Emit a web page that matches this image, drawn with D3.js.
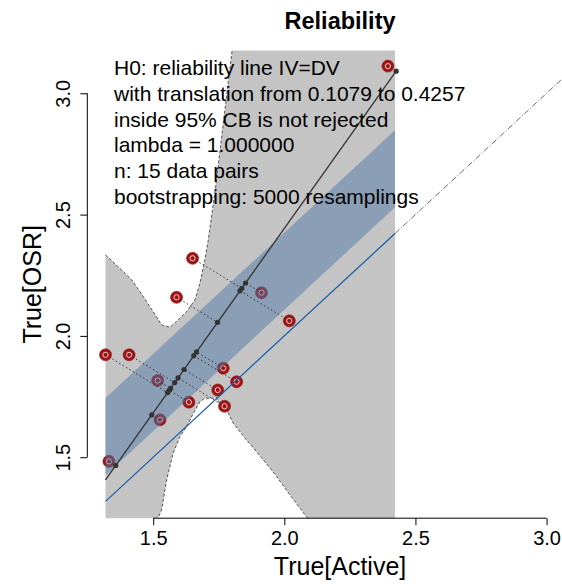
<!DOCTYPE html>
<html>
<head>
<meta charset="utf-8">
<script src="https://cdn.jsdelivr.net/npm/d3@7"></script>
<style>
  body { margin: 0; background: #fff; }
  text { font-family: "Liberation Sans", Arial, sans-serif; }
</style>
</head>
<body>
<div id="container"></div>
<script>
// data pairs (True[Active], True[OSR])
const activeX = [2.395, 1.650, 1.589, 1.913, 2.019, 1.318, 1.408, 1.517, 1.767, 1.818, 1.746, 1.636, 1.772, 1.526, 1.331];
const osrY    = [3.112, 2.320, 2.159, 2.178, 2.062, 1.922, 1.922, 1.816, 1.867, 1.811, 1.777, 1.727, 1.710, 1.654, 1.483];

// orthogonal (lambda = 1) fit line
const fitIntercept = -0.597;
const fitSlope = 1.52;
const fitExtent = [1.318, 2.427];

// translation of the identity line inside the 95% CB
const translation = [0.1079, 0.4257];
const bandExtent = [1.318, 2.422];

// bootstrap confidence band (upper edge left->right, lower edge right->left)
const cbUpperX = [1.318, 1.386, 1.418, 1.462, 1.500, 1.532, 1.564, 1.595, 1.627, 1.659, 1.678, 1.697, 1.710, 1.738, 1.800, 1.900, 2.422];
const cbUpperY = [2.334, 2.265, 2.231, 2.162, 2.100, 2.045, 2.036, 2.066, 2.100, 2.148, 2.217, 2.313, 2.395, 2.614, 3.170, 3.800, 3.900];
const cbLowerX = [2.422, 2.200, 2.088, 2.021, 1.971, 1.920, 1.856, 1.805, 1.780, 1.750, 1.739, 1.729, 1.697, 1.678, 1.653, 1.627, 1.602, 1.576, 1.551, 1.532, 1.519, 1.500, 1.318];
const cbLowerY = [0.770, 1.090, 1.249, 1.345, 1.420, 1.489, 1.571, 1.640, 1.695, 1.725, 1.748, 1.743, 1.743, 1.729, 1.681, 1.626, 1.585, 1.516, 1.406, 1.283, 1.250, 1.100, 0.200];

const axisLim = [1.2486, 3.1764];
const xTicks = [1.5, 2.0, 2.5, 3.0];
const yTicks = [1.5, 2.0, 2.5, 3.0];

const legendLines = [
  "H0: reliability line IV=DV",
  "with translation from 0.1079 to 0.4257",
  "inside 95% CB is not rejected",
  "lambda = 1.000000",
  "n: 15 data pairs",
  "bootstrapping: 5000 resamplings"
];

const width = 562, height = 586;

const x = d3.scaleLinear().domain(axisLim).range([87.3, 592.8]);
const y = d3.scaleLinear().domain(axisLim).range([518.2, 50.5]);

const svg = d3.select("#container").append("svg")
  .attr("width", width)
  .attr("height", height)
  .attr("viewBox", [0, 0, width, height]);

svg.append("rect").attr("width", width).attr("height", height).attr("fill", "#fff");

svg.append("defs").append("clipPath").attr("id", "plotclip")
  .append("rect")
  .attr("x", x(axisLim[0])).attr("y", y(axisLim[1]))
  .attr("width", x(axisLim[1]) - x(axisLim[0]))
  .attr("height", y(axisLim[0]) - y(axisLim[1]));

const plot = svg.append("g").attr("clip-path", "url(#plotclip)");

const upper = cbUpperX.map((v, i) => [v, cbUpperY[i]]);
const lower = cbLowerX.map((v, i) => [v, cbLowerY[i]]);
const line = d3.line().x(d => x(d[0])).y(d => y(d[1]));

// gray bootstrap band
plot.append("path")
  .attr("d", line(upper.concat(lower)) + "Z")
  .attr("fill", "#c4c4c4");

plot.selectAll(".cbedge")
  .data([upper, lower])
  .join("path")
  .attr("class", "cbedge")
  .attr("d", line)
  .attr("fill", "none")
  .attr("stroke", "#444")
  .attr("stroke-width", 0.9)
  .attr("stroke-dasharray", "3,2");

// projections onto fit line
const pts = activeX.map((v, i) => {
  const px = (v + fitSlope * (osrY[i] - fitIntercept)) / (1 + fitSlope * fitSlope);
  return { x: v, y: osrY[i], px: px, py: fitIntercept + fitSlope * px };
});

// red data points
const pg = plot.append("g");
pg.selectAll("circle.pt")
  .data(pts)
  .join("circle")
  .attr("class", "pt")
  .attr("cx", d => x(d.x))
  .attr("cy", d => y(d.y))
  .attr("r", 6)
  .attr("fill", "#a31414")
  .attr("stroke", "#7a1010")
  .attr("stroke-width", 0.6);
pg.selectAll("circle.glyph")
  .data(pts)
  .join("circle")
  .attr("class", "glyph")
  .attr("cx", d => x(d.x))
  .attr("cy", d => y(d.y))
  .attr("r", 2.6)
  .attr("fill", "none")
  .attr("stroke", "#eecccc")
  .attr("stroke-width", 1);

// blue translation band
const bandPoly = [
  [bandExtent[0], bandExtent[0] + translation[0]],
  [bandExtent[1], bandExtent[1] + translation[0]],
  [bandExtent[1], bandExtent[1] + translation[1]],
  [bandExtent[0], bandExtent[0] + translation[1]]
];
plot.append("path")
  .attr("d", line(bandPoly) + "Z")
  .attr("fill", "rgb(80,120,168)")
  .attr("fill-opacity", 0.5);

// identity line: blue over the band range, dot-dash beyond it
plot.append("path")
  .attr("d", line([[bandExtent[1], bandExtent[1]], [axisLim[1], axisLim[1]]]))
  .attr("stroke", "#555")
  .attr("stroke-width", 0.9)
  .attr("stroke-dasharray", "6,2,1,2")
  .attr("fill", "none");
plot.append("path")
  .attr("d", line([[bandExtent[0], bandExtent[0]], [bandExtent[1], bandExtent[1]]]))
  .attr("stroke", "#1f5fa8")
  .attr("stroke-width", 1.3)
  .attr("fill", "none");

// dotted projection segments
plot.selectAll("line.proj")
  .data(pts)
  .join("line")
  .attr("class", "proj")
  .attr("x1", d => x(d.x)).attr("y1", d => y(d.y))
  .attr("x2", d => x(d.px)).attr("y2", d => y(d.py))
  .attr("stroke", "#333")
  .attr("stroke-width", 1)
  .attr("stroke-dasharray", "1.5,2.5");

// fit line
plot.append("path")
  .attr("d", line(fitExtent.map(v => [v, fitIntercept + fitSlope * v])))
  .attr("stroke", "#333")
  .attr("stroke-width", 1.3)
  .attr("fill", "none");

plot.selectAll("circle.proj")
  .data(pts)
  .join("circle")
  .attr("class", "proj")
  .attr("cx", d => x(d.px))
  .attr("cy", d => y(d.py))
  .attr("r", 2.6)
  .attr("fill", "#333");

// axes
const gx = svg.append("g")
  .attr("transform", `translate(0,${y(axisLim[0])})`)
  .call(d3.axisBottom(x).tickValues(xTicks).tickSize(7).tickFormat(d3.format(".1f")))
  .call(g => g.select(".domain").remove());
gx.append("line")
  .attr("x1", x(xTicks[0])).attr("x2", x(xTicks[xTicks.length - 1]))
  .attr("stroke", "#000");
gx.selectAll(".tick text")
  .attr("y", 27).attr("dy", null)
  .attr("font-size", 20)
  .attr("font-family", "Liberation Sans, Arial, sans-serif")
  .attr("fill", "#000");

const gy = svg.append("g")
  .attr("transform", `translate(${x(axisLim[0])},0)`)
  .call(d3.axisLeft(y).tickValues(yTicks).tickSize(7).tickFormat(d3.format(".1f")))
  .call(g => g.select(".domain").remove());
gy.append("line")
  .attr("y1", y(yTicks[0])).attr("y2", y(yTicks[yTicks.length - 1]))
  .attr("stroke", "#000");
gy.selectAll(".tick text")
  .attr("x", 0).attr("y", -17.5).attr("dy", null)
  .attr("transform", "rotate(-90)")
  .attr("text-anchor", "middle")
  .attr("font-size", 20)
  .attr("font-family", "Liberation Sans, Arial, sans-serif")
  .attr("fill", "#000");

const cx = (x(axisLim[0]) + x(axisLim[1])) / 2;
const cy = (y(axisLim[0]) + y(axisLim[1])) / 2;

svg.append("text")
  .attr("x", cx).attr("y", 29)
  .attr("text-anchor", "middle")
  .attr("font-weight", "bold")
  .attr("font-size", 23.5)
  .text("Reliability");

svg.append("text")
  .attr("x", cx).attr("y", 575)
  .attr("text-anchor", "middle")
  .attr("font-size", 25)
  .text("True[Active]");

svg.append("text")
  .attr("transform", `translate(41,${cy}) rotate(-90)`)
  .attr("text-anchor", "middle")
  .attr("font-size", 25)
  .text("True[OSR]");

// legend text
svg.append("g")
  .selectAll("text")
  .data(legendLines)
  .join("text")
  .attr("x", 114)
  .attr("y", (d, i) => 75 + i * 25.8)
  .attr("font-size", 21)
  .text(d => d);
</script>
</body>
</html>
